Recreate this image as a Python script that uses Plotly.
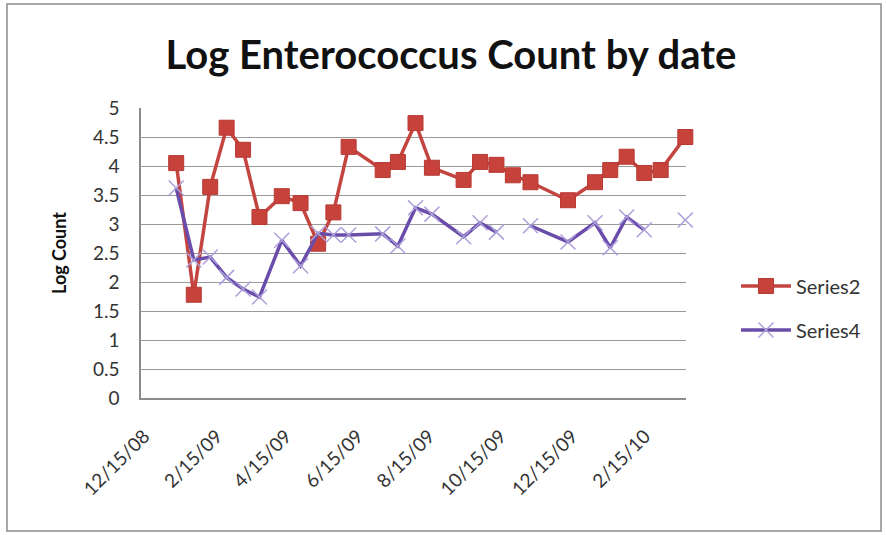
import plotly.graph_objects as go

dates = ["2009-01-14", "2009-01-29", "2009-02-12", "2009-02-26", "2009-03-12", "2009-03-26",
         "2009-04-14", "2009-04-30", "2009-05-15", "2009-05-28", "2009-06-10", "2009-07-09",
         "2009-07-22", "2009-08-06", "2009-08-20", "2009-09-16", "2009-09-30", "2009-10-14",
         "2009-10-28", "2009-11-12", "2009-12-14", "2010-01-06", "2010-01-19", "2010-02-02",
         "2010-02-17", "2010-03-03", "2010-03-24"]

series2 = [4.05, 1.78, 3.64, 4.66, 4.28, 3.12, 3.48, 3.36, 2.66, 3.20, 4.33, 3.93,
           4.07, 4.74, 3.97, 3.76, 4.07, 4.02, 3.84, 3.72, 3.41, 3.72, 3.93, 4.16,
           3.88, 3.93, 4.50]

series4 = [3.62, 2.38, 2.43, 2.08, 1.88, 1.74, 2.72, 2.28, 2.84, 2.81, 2.81, 2.83,
           2.62, 3.28, 3.17, 2.78, 3.02, 2.86, None, 2.97, 2.69, 3.02, 2.59, 3.12,
           2.90, None, 3.07]

tick_dates = ["2008-12-15", "2009-02-15", "2009-04-15", "2009-06-15", "2009-08-15",
              "2009-10-15", "2009-12-15", "2010-02-15"]
tick_text = ["12/15/08", "2/15/09", "4/15/09", "6/15/09", "8/15/09", "10/15/09",
             "12/15/09", "2/15/10"]

y_ticks = [0, 0.5, 1, 1.5, 2, 2.5, 3, 3.5, 4, 4.5, 5]
y_text = ["0", "0.5", "1", "1.5", "2", "2.5", "3", "3.5", "4", "4.5", "5"]

FONT = "Lato, 'Open Sans', sans-serif"

fig = go.Figure()
fig.add_trace(go.Scatter(
    x=dates, y=series2, name="Series2", mode="lines+markers",
    line=dict(color="#C4453F", width=3.5),
    marker=dict(symbol="square", size=15, color="#C8423C",
                line=dict(color="#B83A35", width=1)),
    cliponaxis=False, legendgroup="a", connectgaps=False))
fig.add_trace(go.Scatter(
    x=dates, y=series4, name="Series4", mode="lines+markers",
    line=dict(color="#6A4DAA", width=3.5),
    marker=dict(symbol="x-thin", size=15, color="#ADA0DA",
                line=dict(color="#ADA0DA", width=1.5)),
    cliponaxis=False, legendgroup="b", connectgaps=False))

W, H = 886, 535
L, R, T, B = 141, 200, 108, 137
pw, ph = W - L - R, H - T - B

def px(x):
    return (x - L) / pw

def py(y):
    return (H - B - y) / ph

fig.update_layout(
    width=W, height=H,
    margin=dict(l=L, r=R, t=T, b=B),
    paper_bgcolor="white", plot_bgcolor="white",
    font=dict(family=FONT, color="#333333", size=19),
    title=dict(text="<b>Log Enterococcus Count by date</b>",
               font=dict(family=FONT, size=40, color="#111111"),
               x=451 / W, xref="container", xanchor="center",
               y=1 - 55 / H, yref="container", yanchor="middle"),
    xaxis=dict(type="date", range=["2008-12-15", "2010-03-24 14:00"],
               tickvals=tick_dates, ticktext=tick_text, tickangle=-45,
               tickfont=dict(family=FONT, size=19, color="#333333"),
               ticklabelstandoff=18, ticklabelshift=3,
               showgrid=False, showline=True, linecolor="#8C8C8C", linewidth=1.5,
               ticks="", zeroline=False),
    yaxis=dict(range=[0, 5], tickvals=y_ticks, ticktext=y_text,
               tickfont=dict(family=FONT, size=19, color="#333333"),
               ticklabelstandoff=16,
               showgrid=True, gridcolor="#9A9A9A", gridwidth=1.3,
               showline=True, linecolor="#8C8C8C", linewidth=1.5,
               ticks="", zeroline=False,
               title=dict(text="<b>Log Count</b>", standoff=22,
                          font=dict(family=FONT, size=18, color="#111111"))),
    legend=dict(x=px(736), xanchor="left", y=py(308), yanchor="middle",
                font=dict(family=FONT, size=20, color="#333333"),
                tracegroupgap=15, traceorder="grouped", itemwidth=50,
                bgcolor="rgba(0,0,0,0)"),
    showlegend=True,
)

fig.add_shape(type="rect", xref="paper", yref="paper",
              x0=px(7), x1=px(881), y0=py(531), y1=py(4),
              line=dict(color="#8A8A8A", width=1.5), fillcolor="rgba(0,0,0,0)",
              layer="below")

fig.write_html("out.html", config={"displayModeBar": False},
               post_script="document.body.style.margin='0';")
